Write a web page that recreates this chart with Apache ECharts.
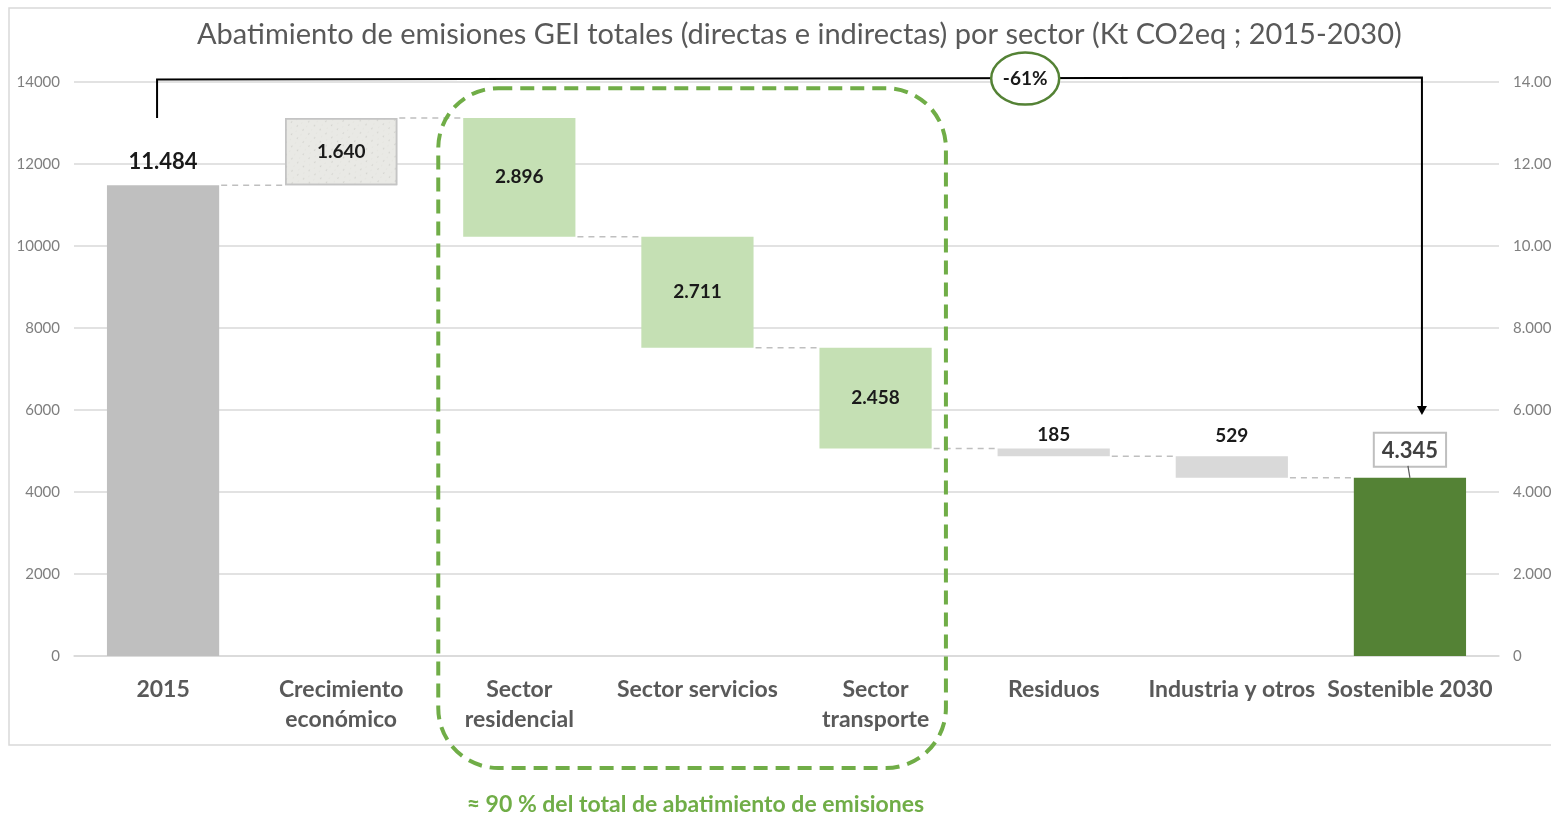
<!DOCTYPE html>
<html><head><meta charset="utf-8">
<script src="https://cdn.jsdelivr.net/npm/echarts@6/dist/echarts.min.js"></script>
<style>html,body{margin:0;padding:0;background:#fff;overflow:hidden;width:1551px;height:816px}#c{width:1551px;height:816px}</style>
</head><body><div id="c"></div>
<script>
// ---- data ----
const categories = ['2015', 'Crecimiento\neconómico', 'Sector\nresidencial', 'Sector servicios', 'Sector\ntransporte', 'Residuos', 'Industria y otros', 'Sostenible 2030'];
const deltas = [11484, 1640, -2896, -2711, -2458, -185, -529, 4345];
const kinds = ['total', 'up', 'down', 'down', 'down', 'down', 'down', 'total'];
const yTicks = [0, 2000, 4000, 6000, 8000, 10000, 12000, 14000];
const changeLabel = '-61%';
const noteText = '≈ 90 % del total de abatimiento de emisiones';
const titleText = 'Abatimiento de emisiones GEI totales (directas e indirectas) por sector (Kt CO2eq ; 2015-2030)';

// ---- styles ----
const FONT = 'Lato, "Open Sans", sans-serif';
const barColors = ['#BFBFBF', '#E9E9E5', '#C5E0B4', '#C5E0B4', '#C5E0B4', '#D9D9D9', '#D9D9D9', '#548235'];
const fmt = v => Math.round(v).toString().replace(/\B(?=(\d{3})+(?!\d))/g, '.');

// ---- waterfall build ----
const base = [], vals = [], levels = [];
let running = 0;
deltas.forEach((d, i) => {
  if (kinds[i] === 'total') { base.push(0); vals.push(Math.abs(d)); running = Math.abs(d); }
  else if (d >= 0) { base.push(running); vals.push(d); running += d; }
  else { running += d; base.push(running); vals.push(-d); }
  levels.push(running);
});

const labelCfg = i => {
  const b = { show: true, fontFamily: FONT, fontWeight: 'bold', color: '#1a1a1a', fontSize: 19 };
  if (i === 0) return Object.assign(b, { position: 'top', distance: 12, fontSize: 22 });
  if (i === 7) return Object.assign(b, { position: 'top', distance: 12, fontSize: 22, color: '#404040',
    borderColor: '#BFBFBF', borderWidth: 2, backgroundColor: '#fff', padding: [6, 7, 4, 7] });
  if (i === 5) return Object.assign(b, { position: 'top', distance: 4 });
  if (i === 6) return Object.assign(b, { position: 'top', distance: 11 });
  return Object.assign(b, { position: 'inside' });
};

const valueData = vals.map((v, i) => ({
  value: v,
  itemStyle: i === 1 ? { color: barColors[i], borderColor: '#C4C4C4', borderWidth: 1.5,
    decal: { symbol: 'circle', symbolSize: 0.6, color: 'rgba(140,140,130,0.45)', dashArrayX: [[3, 4], [1, 5]], dashArrayY: [2, 3], rotation: 0.6 } }
    : { color: barColors[i] },
  label: labelCfg(i)
}));

const chart = echarts.init(document.getElementById('c'), null, { renderer: 'canvas', width: 1551, height: 816 });
const BW = 0.63;
chart.setOption({
  animation: false,
  title: { text: titleText, left: 192, top: 15,
    textStyle: { fontFamily: FONT, fontSize: 29, fontWeight: 'normal', color: '#595959' } },
  grid: { left: 74, right: 52, top: 82, bottom: 160, containLabel: false, outerBoundsMode: 'none' },
  xAxis: { type: 'category', data: categories,
    axisLine: { show: true, lineStyle: { color: '#D9D9D9', width: 1.5 } }, axisTick: { show: false },
    axisLabel: { interval: 0, margin: 19, fontFamily: FONT, fontWeight: 'bold', fontSize: 23, color: '#595959', lineHeight: 30 } },
  yAxis: [
    { type: 'value', min: yTicks[0], max: yTicks[yTicks.length - 1], interval: yTicks[1] - yTicks[0],
      axisLine: { show: false }, axisTick: { show: false },
      splitLine: { lineStyle: { color: '#D9D9D9', width: 1.5 } },
      axisLabel: { margin: 14, fontFamily: FONT, fontSize: 15, color: '#7F7F7F', formatter: v => String(v) } },
    { type: 'value', min: yTicks[0], max: yTicks[yTicks.length - 1], interval: yTicks[1] - yTicks[0],
      position: 'right', axisLine: { show: false }, axisTick: { show: false }, splitLine: { show: false },
      axisLabel: { margin: 14, fontFamily: FONT, fontSize: 15, color: '#7F7F7F', formatter: v => fmt(v) } }
  ],
  series: [
    { type: 'bar', stack: 'w', data: base, barWidth: (BW * 100) + '%', itemStyle: { color: 'transparent' }, silent: true },
    { type: 'bar', stack: 'w', data: valueData, barWidth: (BW * 100) + '%', label: { formatter: p => fmt(p.value) } },
    { type: 'custom', silent: true, z: 1,
      data: levels.slice(0, -1).map((l, i) => [i, l]),
      renderItem: (params, api) => {
        const i = api.value(0), l = api.value(1);
        const p1 = api.coord([i, l]), p2 = api.coord([i + 1, l]);
        const bw = api.size([1, 0])[0] * BW;
        return { type: 'line', shape: { x1: p1[0] + bw / 2 + 2, y1: p1[1], x2: p2[0] - bw / 2 - 2, y2: p2[1] },
          style: { stroke: '#BFBFBF', lineWidth: 1.5, lineDash: [6, 5] } };
      } }
  ]
});

// ---- annotations computed from axes ----
const P = (x, y) => chart.convertToPixel({ xAxisIndex: 0, yAxisIndex: 0 }, [x, y]);
const p0 = P(0, levels[1]);
const pTop = P(0, 14060);
const pEnd = P(7, 5880);
const step = P(1, 0)[0] - P(0, 0)[0];
const x0 = p0[0] - 6, xEnd = pEnd[0] + 12;
const ellX = P(4, 0)[0] + step * 0.84;
const lastTop = P(7, vals[7]);
const axis0 = P(0, 0)[1];
const boxL = P(2, 0)[0] - step * 0.455, boxR = P(4, 0)[0] + step * 0.395;
const boxT = P(0, 13850)[1], boxB = axis0 + 112;

chart.setOption({
  graphic: [
    { type: 'polyline', z: -10, silent: true, shape: { points: [[1700, 8], [9, 8], [9, 745], [1700, 745]] },
      style: { fill: 'none', stroke: '#D9D9D9', lineWidth: 1.5 } },
    { type: 'polyline', z: 50, shape: { points: [[x0, p0[1]], [x0, pTop[1]], [xEnd, pTop[1] - 2], [xEnd, pEnd[1] - 8]] },
      style: { stroke: '#000', lineWidth: 2, fill: 'none' } },
    { type: 'polygon', z: 50, shape: { points: [[xEnd - 5, pEnd[1] - 9], [xEnd + 5, pEnd[1] - 9], [xEnd, pEnd[1]]] },
      style: { fill: '#000' } },
    { type: 'ellipse', z: 51, shape: { cx: ellX, cy: pTop[1] - 1, rx: 34, ry: 26 },
      style: { fill: '#fff', stroke: '#548235', lineWidth: 2.5 } },
    { type: 'text', z: 52, x: ellX, y: pTop[1] - 1,
      style: { text: changeLabel, fontFamily: FONT, fontWeight: 'bold', fontSize: 19, fill: '#1a1a1a', align: 'center', verticalAlign: 'middle' } },
    { type: 'line', z: 40, shape: { x1: lastTop[0] - 2, y1: lastTop[1] - 12, x2: lastTop[0], y2: lastTop[1] },
      style: { stroke: '#595959', lineWidth: 1.2 } },
    { type: 'rect', z: 30, shape: { x: boxL, y: boxT, width: boxR - boxL, height: boxB - boxT, r: 60 },
      style: { fill: 'none', stroke: '#70AD47', lineWidth: 4, lineDash: [14, 8] } },
    { type: 'text', z: 30, x: P(3, 0)[0] - 2, y: 805,
      style: { text: noteText, fontFamily: FONT, fontWeight: 'bold', fontSize: 23, fill: '#70AD47', align: 'center', verticalAlign: 'middle' } }
  ]
});
</script></body></html>
